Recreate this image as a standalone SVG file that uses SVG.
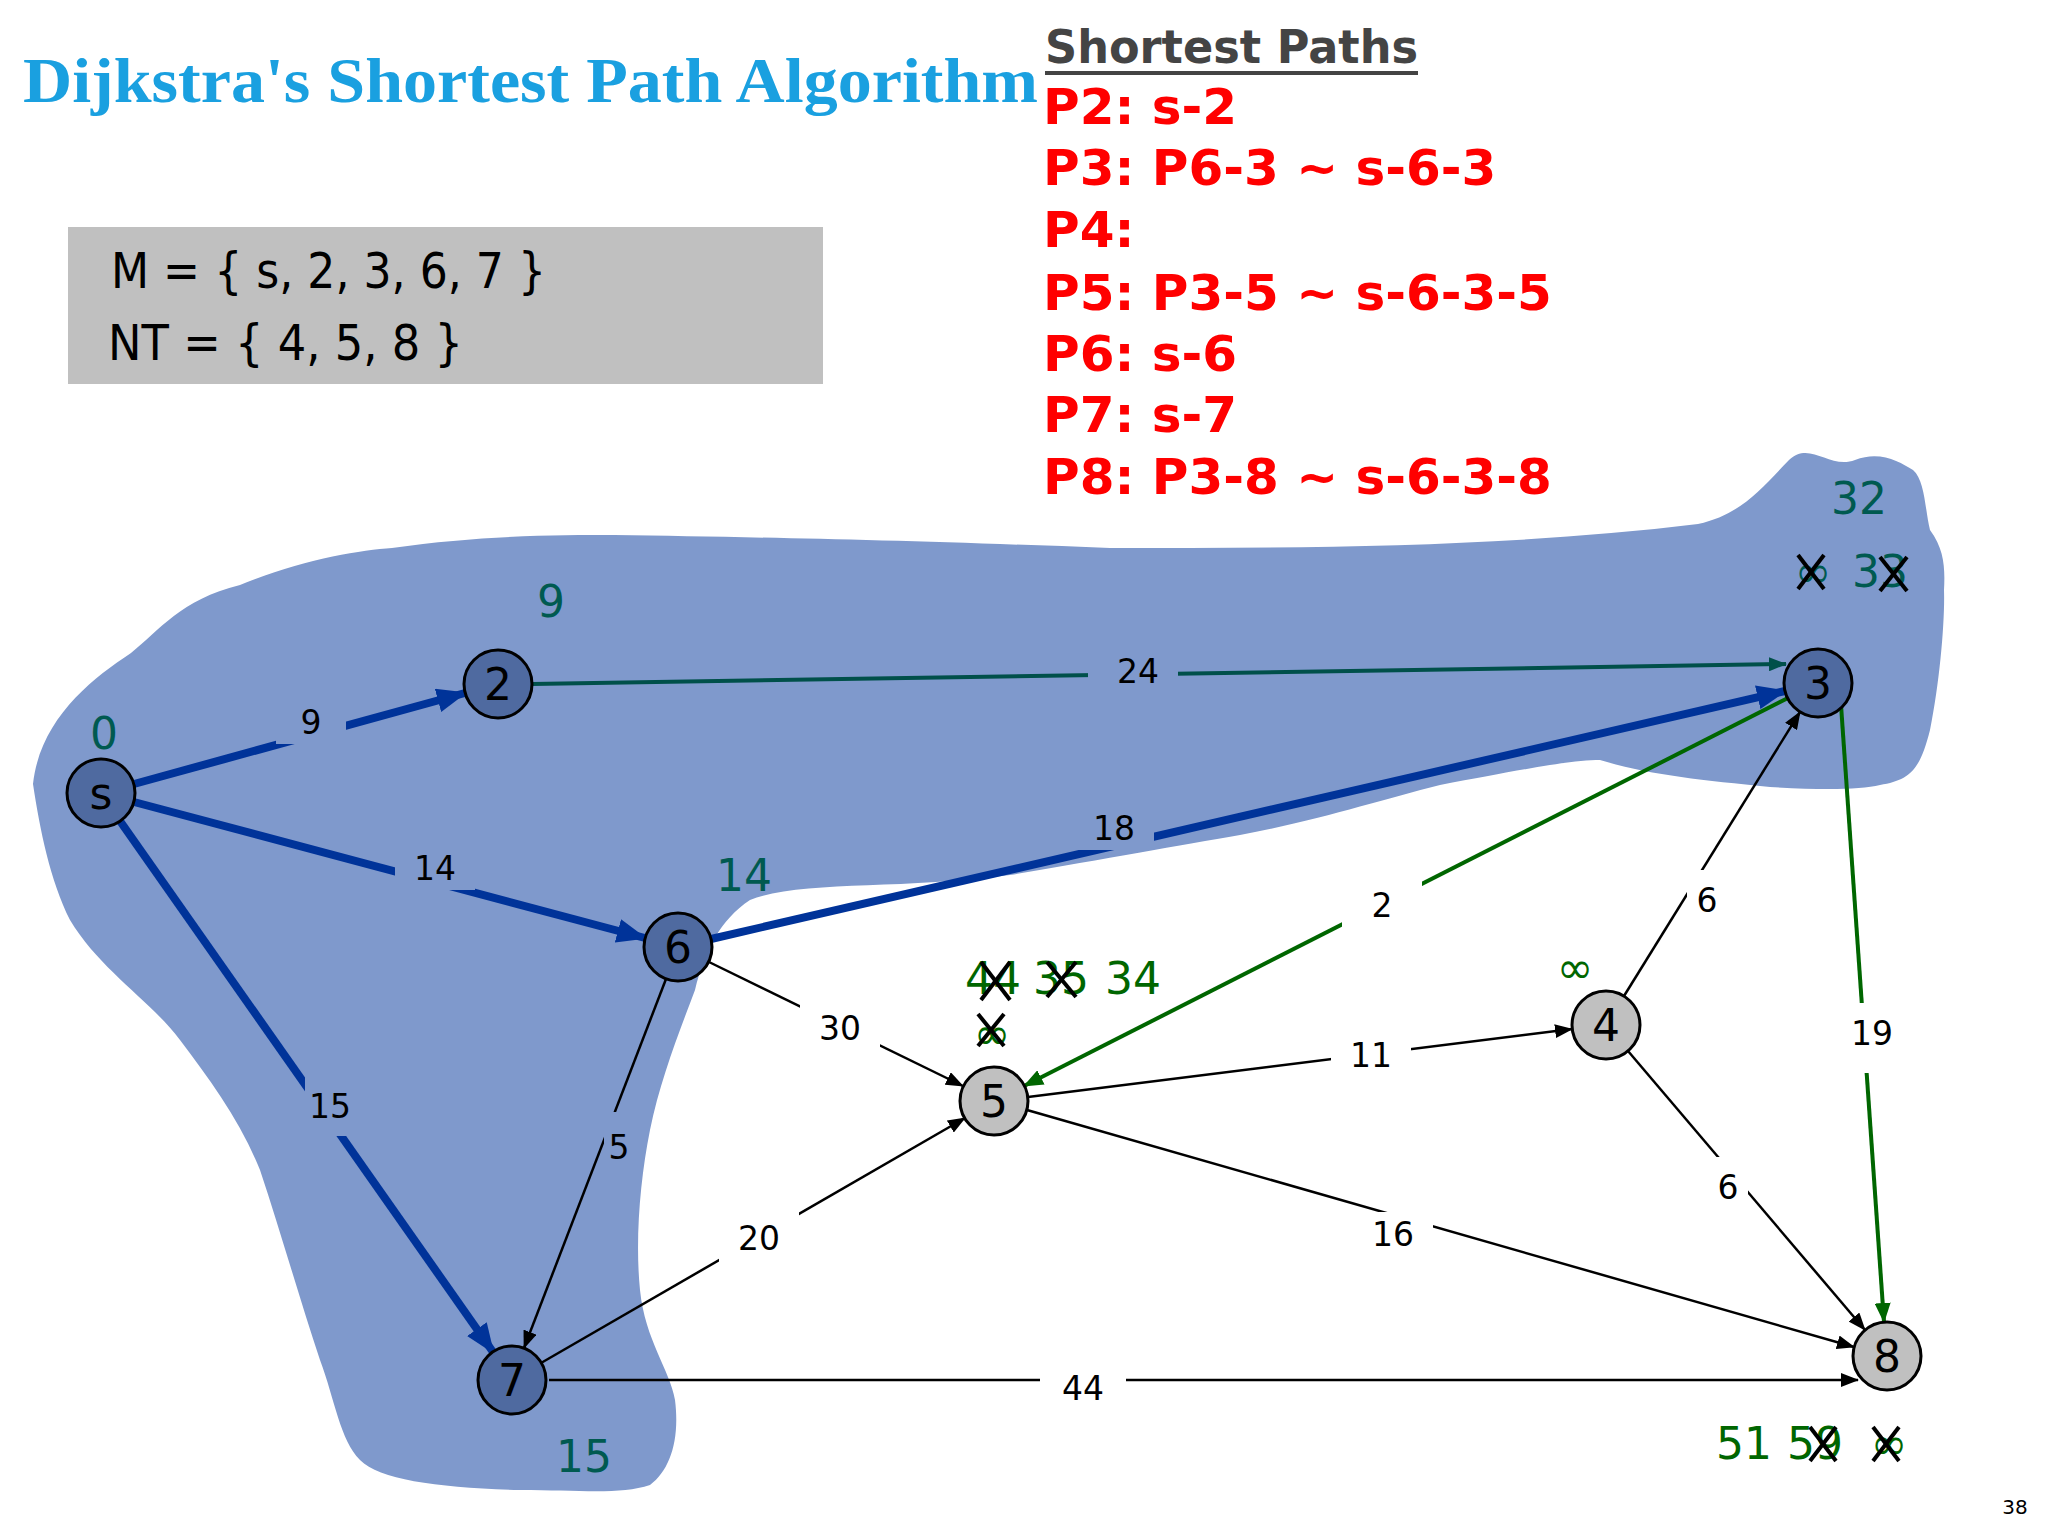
<svg xmlns="http://www.w3.org/2000/svg" width="2048" height="1536" viewBox="0 0 2048 1536">
<style>
.el{font-family:"DejaVu Sans",sans-serif;font-size:33px;text-anchor:middle;dominant-baseline:central;fill:#000}
.d{font-family:"DejaVu Sans",sans-serif;font-size:44px;text-anchor:middle;dominant-baseline:central;fill:#006600}
.dt{fill:#005a50}
.nd circle{stroke:#000;stroke-width:3}
.nd text{font-family:"DejaVu Sans",sans-serif;font-size:44px;text-anchor:middle;dominant-baseline:central;fill:#000}
.red{font-family:"DejaVu Sans",sans-serif;font-weight:bold;font-size:50px;fill:#ff0000}
.x line{stroke:#000;stroke-width:4}
</style>
<defs>
<marker id="ab" markerUnits="userSpaceOnUse" markerWidth="30" markerHeight="24" refX="28" refY="12" orient="auto"><path d="M0,0 L30,12 L0,24 z" fill="#003399"/></marker>
<marker id="ak" markerUnits="userSpaceOnUse" markerWidth="18" markerHeight="14" refX="17" refY="7" orient="auto"><path d="M0,0 L18,7 L0,14 z" fill="#000"/></marker>
<marker id="ag" markerUnits="userSpaceOnUse" markerWidth="20" markerHeight="16" refX="19" refY="8" orient="auto"><path d="M0,0 L20,8 L0,16 z" fill="#006600"/></marker>
<marker id="at" markerUnits="userSpaceOnUse" markerWidth="18" markerHeight="14" refX="17" refY="7" orient="auto"><path d="M0,0 L18,7 L0,14 z" fill="#00504a"/></marker>
</defs>
<rect width="2048" height="1536" fill="#fff"/>
<path fill="#7f99cc" d="M33,784 C40,720 90,680 131,653 C160,630 180,600 240,585 C300,560 360,550 392,548 C480,535 560,535 614,535 C750,537 900,540 1110,548 C1300,548 1500,548 1698,524 C1740,515 1760,490 1789,460 C1810,440 1830,470 1855,460 C1880,450 1900,462 1913,470 C1925,480 1925,510 1930,530 C1945,550 1945,570 1944,590 C1945,620 1940,680 1930,730 C1920,770 1910,780 1880,785 C1860,790 1820,790 1770,787 C1700,780 1650,775 1600,760 C1570,760 1520,770 1440,785 C1380,800 1320,820 1240,835 C1180,845 1100,860 1010,875 C900,890 800,880 750,900 C720,920 705,950 695,990 C680,1030 660,1080 650,1130 C640,1180 635,1240 640,1290 C645,1340 670,1370 675,1400 C680,1440 670,1470 650,1485 C620,1495 580,1490 520,1490 C440,1488 380,1480 360,1460 C340,1440 335,1400 320,1360 C300,1300 280,1230 260,1170 C240,1120 210,1080 180,1040 C150,1000 100,970 70,920 C50,880 40,830 33,784 Z"/>
<text x="23" y="102" font-family="Liberation Serif,serif" font-weight="bold" font-size="64" fill="#1aa0e0" textLength="1015" lengthAdjust="spacingAndGlyphs">Dijkstra's Shortest Path Algorithm</text>
<text x="1045" y="63" font-family="DejaVu Sans,sans-serif" font-weight="bold" font-size="46" fill="#444" textLength="373" lengthAdjust="spacingAndGlyphs">Shortest Paths</text>
<line x1="1045" y1="73" x2="1418" y2="73" stroke="#444" stroke-width="4"/>
<text class="red" x="1043" y="124">P2: s-2</text>
<text class="red" x="1043" y="185">P3: P6-3 ~ s-6-3</text>
<text class="red" x="1043" y="247">P4:</text>
<text class="red" x="1043" y="310">P5: P3-5 ~ s-6-3-5</text>
<text class="red" x="1043" y="371">P6: s-6</text>
<text class="red" x="1043" y="432">P7: s-7</text>
<text class="red" x="1043" y="494">P8: P3-8 ~ s-6-3-8</text>
<rect x="68" y="227" width="755" height="157" fill="#c0c0c0"/>
<text x="111" y="288" font-family="DejaVu Sans,sans-serif" font-size="50" fill="#000" textLength="435" lengthAdjust="spacingAndGlyphs">M = { s, 2, 3, 6, 7 }</text>
<text x="108" y="360" font-family="DejaVu Sans,sans-serif" font-size="50" fill="#000" textLength="355" lengthAdjust="spacingAndGlyphs">NT = { 4, 5, 8 }</text>
<g id="connectors" fill="none">
<line x1="134" y1="784" x2="465" y2="693" stroke="#003399" stroke-width="8" marker-end="url(#ab)"/>
<line x1="134" y1="802" x2="645" y2="938" stroke="#003399" stroke-width="8" marker-end="url(#ab)"/>
<line x1="120" y1="821" x2="493" y2="1352" stroke="#003399" stroke-width="8" marker-end="url(#ab)"/>
<line x1="711" y1="939" x2="1785" y2="691" stroke="#003399" stroke-width="8" marker-end="url(#ab)"/>
<line x1="532" y1="684" x2="1786" y2="664" stroke="#00504a" stroke-width="4" marker-end="url(#at)"/>
<line x1="1788" y1="698" x2="1024" y2="1086" stroke="#006600" stroke-width="4" marker-end="url(#ag)"/>
<line x1="1841" y1="705" x2="1884" y2="1322" stroke="#006600" stroke-width="4" marker-end="url(#ag)"/>
<line x1="709" y1="962" x2="963" y2="1086" stroke="#000" stroke-width="2.5" marker-end="url(#ak)"/>
<line x1="666" y1="979" x2="524" y2="1348" stroke="#000" stroke-width="2.5" marker-end="url(#ak)"/>
<line x1="541" y1="1363" x2="965" y2="1118" stroke="#000" stroke-width="2.5" marker-end="url(#ak)"/>
<line x1="549" y1="1380" x2="1858" y2="1380" stroke="#000" stroke-width="2.5" marker-end="url(#ak)"/>
<line x1="1028" y1="1097" x2="1572" y2="1029" stroke="#000" stroke-width="2.5" marker-end="url(#ak)"/>
<line x1="1027" y1="1110" x2="1854" y2="1347" stroke="#000" stroke-width="2.5" marker-end="url(#ak)"/>
<line x1="1624" y1="996" x2="1800" y2="712" stroke="#000" stroke-width="2.5" marker-end="url(#ak)"/>
<line x1="1628" y1="1051" x2="1865" y2="1330" stroke="#000" stroke-width="2.5" marker-end="url(#ak)"/>
</g>
<g id="edge-labels">
<rect x="276" y="700" width="70" height="44" fill="#7f99cc"/><text class="el" x="311" y="722">9</text>
<rect x="395" y="846" width="80" height="44" fill="#7f99cc"/><text class="el" x="435" y="868">14</text>
<rect x="305" y="1076" width="50" height="60" fill="#7f99cc"/><text class="el" x="330" y="1106">15</text>
<rect x="1074" y="806" width="80" height="44" fill="#7f99cc"/><text class="el" x="1114" y="828">18</text>
<rect x="1088" y="651" width="90" height="40" fill="#7f99cc"/><text class="el" x="1138" y="671">24</text>
<rect x="1342" y="880" width="80" height="50" fill="#fff"/><text class="el" x="1382" y="905">2</text>
<rect x="1852" y="1003" width="40" height="70" fill="#fff"/><text class="el" x="1872" y="1033">19</text>
<rect x="800" y="1003" width="80" height="50" fill="#fff"/><text class="el" x="840" y="1028">30</text>
<rect x="604" y="1112" width="30" height="70" fill="#7f99cc"/><text class="el" x="619" y="1147">5</text>
<rect x="719" y="1208" width="80" height="60" fill="#fff"/><text class="el" x="759" y="1238">20</text>
<rect x="1040" y="1363" width="86" height="50" fill="#fff"/><text class="el" x="1083" y="1388">44</text>
<rect x="1331" y="1035" width="80" height="40" fill="#fff"/><text class="el" x="1371" y="1055">11</text>
<rect x="1353" y="1212" width="80" height="44" fill="#fff"/><text class="el" x="1393" y="1234">16</text>
<rect x="1687" y="870" width="40" height="60" fill="#fff"/><text class="el" x="1707" y="900">6</text>
<rect x="1708" y="1157" width="40" height="60" fill="#fff"/><text class="el" x="1728" y="1187">6</text>
</g>
<g id="node-s" class="nd"><circle cx="101" cy="793" r="34" fill="#4f6aa0"/><text x="101" y="793">s</text></g>
<g id="node-2" class="nd"><circle cx="498" cy="684" r="34" fill="#4f6aa0"/><text x="498" y="684">2</text></g>
<g id="node-3" class="nd"><circle cx="1818" cy="683" r="34" fill="#4f6aa0"/><text x="1818" y="683">3</text></g>
<g id="node-6" class="nd"><circle cx="678" cy="947" r="34" fill="#4f6aa0"/><text x="678" y="947">6</text></g>
<g id="node-7" class="nd"><circle cx="512" cy="1380" r="34" fill="#4f6aa0"/><text x="512" y="1380">7</text></g>
<g id="node-5" class="nd"><circle cx="994" cy="1101" r="34" fill="#c0c0c0"/><text x="994" y="1101">5</text></g>
<g id="node-4" class="nd"><circle cx="1606" cy="1025" r="34" fill="#c0c0c0"/><text x="1606" y="1025">4</text></g>
<g id="node-8" class="nd"><circle cx="1887" cy="1356" r="34" fill="#c0c0c0"/><text x="1887" y="1356">8</text></g>
<g id="distances">
<text class="d dt" x="104" y="733">0</text>
<text class="d dt" x="551" y="601">9</text>
<text class="d dt" x="744" y="875">14</text>
<text class="d dt" x="584" y="1456">15</text>
<text class="d dt" x="1859" y="498">32</text>
<text class="d dt" x="1813" y="571">∞</text>
<text class="d dt" x="1880" y="571">33</text>
<text class="d" x="993" y="978">44</text>
<text class="d" x="1061" y="978">35</text>
<text class="d" x="1133" y="978">34</text>
<text class="d" x="992" y="1033">∞</text>
<text class="d" x="1575" y="967">∞</text>
<text class="d" x="1744" y="1443">51</text>
<text class="d" x="1815" y="1443">59</text>
<text class="d" x="1889" y="1443">∞</text>
</g>
<g class="x">
<g><line x1="1798" y1="555" x2="1824" y2="589" stroke="#1a2a55"/><line x1="1824" y1="555" x2="1798" y2="589" stroke="#1a2a55"/></g>
<g><line x1="1880" y1="557" x2="1907" y2="591" stroke="#1a2a55"/><line x1="1907" y1="557" x2="1880" y2="591" stroke="#1a2a55"/></g>
<g><line x1="981" y1="962" x2="1010" y2="1000"/><line x1="1010" y1="962" x2="981" y2="1000"/></g>
<g><line x1="1047" y1="962" x2="1076" y2="997"/><line x1="1076" y1="962" x2="1047" y2="997"/></g>
<g><line x1="978" y1="1014" x2="1004" y2="1046"/><line x1="1004" y1="1014" x2="978" y2="1046"/></g>
<g><line x1="1810" y1="1427" x2="1836" y2="1461"/><line x1="1836" y1="1427" x2="1810" y2="1461"/></g>
<g><line x1="1873" y1="1427" x2="1899" y2="1461"/><line x1="1899" y1="1427" x2="1873" y2="1461"/></g>
</g>
<text x="2015" y="1507" font-family="DejaVu Sans,sans-serif" font-size="20" text-anchor="middle" dominant-baseline="central" fill="#000">38</text>
</svg>
